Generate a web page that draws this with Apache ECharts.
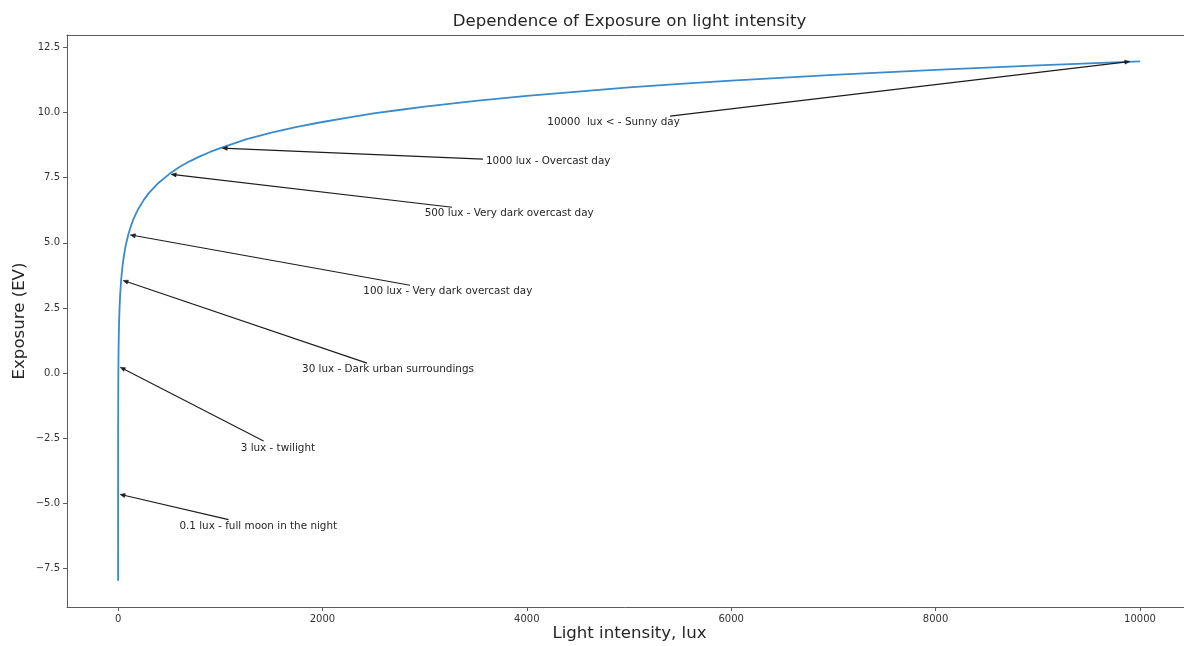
<!DOCTYPE html>
<html>
<head>
<meta charset="utf-8">
<script src="https://cdn.jsdelivr.net/npm/echarts@6/dist/echarts.min.js"></script>
<style>
html,body{margin:0;padding:0;background:#fff;}
#chart{width:1184px;height:646px;}
</style>
</head>
<body>
<div id="chart"></div>
<script>
// Curve readings (light intensity in lux, exposure in EV)
const luxValues = [0.01, 0.02, 0.05, 0.1, 0.2, 0.5, 1, 2, 3, 5, 7, 10, 15, 20, 30, 40, 50, 60, 75, 100, 125, 150, 200, 250, 300, 400, 500, 600, 700, 800, 900, 1000, 1250, 1500, 1750, 2000, 2250, 2500, 2750, 3000, 3500, 4000, 4500, 5000, 5500, 6000, 7000, 8000, 9000, 10000];
const evValues = [-7.97, -6.97, -5.64, -4.64, -3.64, -2.32, -1.32, -0.32, 0.26, 1.0, 1.49, 2.0, 2.58, 3.0, 3.58, 4.0, 4.32, 4.58, 4.91, 5.32, 5.64, 5.91, 6.32, 6.64, 6.91, 7.32, 7.64, 7.91, 8.13, 8.32, 8.49, 8.64, 8.97, 9.23, 9.45, 9.64, 9.81, 9.97, 10.10, 10.23, 10.45, 10.64, 10.81, 10.97, 11.10, 11.23, 11.45, 11.64, 11.81, 11.97];

// Annotations
const annoLabels = ['0.1 lux - full moon in the night', '3 lux - twilight', '30 lux - Dark urban surroundings', '100 lux - Very dark overcast day', '500 lux - Very dark overcast day', '1000 lux - Overcast day', '10000  lux < - Sunny day'];
const annoPointLux = [0.1, 3, 30, 100, 500, 1000, 9920];
const annoPointEV = [-4.64, 0.26, 3.58, 5.32, 7.64, 8.64, 11.97];
const annoTextLux = [600, 1200, 1800, 2400, 3000, 3600, 4200];
const annoTextEV = [-6, -3, 0, 3, 6, 8, 9.5];

// Tick labels
const xTicks = [0, 2000, 4000, 6000, 8000, 10000];
const yTicks = [-7.5, -5.0, -2.5, 0.0, 2.5, 5.0, 7.5, 10.0, 12.5];

const FONT = '"DejaVu Sans", sans-serif';
const ANNO_FS = 10.4;
const measureCtx = document.createElement('canvas').getContext('2d');
measureCtx.font = ANNO_FS + 'px ' + FONT;

const curveData = luxValues.map((x, i) => [x, evValues[i]]);
const annoData = annoLabels.map((t, i) => [annoTextLux[i], annoTextEV[i], annoPointLux[i], annoPointEV[i], i]);

function renderAnno(params, api) {
  const idx = api.value(4);
  const label = annoLabels[idx];
  const tp = api.coord([api.value(0), api.value(1)]);
  const hp = api.coord([api.value(2), api.value(3)]);
  const w = measureCtx.measureText(label).width;
  const baseline = tp[1];
  const left = tp[0];
  const top = baseline - 0.8 * ANNO_FS;
  const bottom = baseline + 0.25 * ANNO_FS;
  const cx = left + w / 2;
  const cy = (top + bottom) / 2;
  let dx = hp[0] - cx, dy = hp[1] - cy;
  const len = Math.sqrt(dx * dx + dy * dy);
  const ux = dx / len, uy = dy / len;
  const hw = w / 2 + 1, hh = (bottom - top) / 2 + 1;
  let t = Infinity;
  if (Math.abs(ux) > 1e-9) t = Math.min(t, hw / Math.abs(ux));
  if (Math.abs(uy) > 1e-9) t = Math.min(t, hh / Math.abs(uy));
  const sx = cx + ux * (t + 2), sy = cy + uy * (t + 2);
  const ex = hp[0] - ux * 2, ey = hp[1] - uy * 2;
  const headLen = 5, headW = 2;
  const bx = ex - ux * headLen, by = ey - uy * headLen;
  const px = -uy, py = ux;
  return {
    type: 'group',
    children: [
      { type: 'line', shape: { x1: sx, y1: sy, x2: bx, y2: by }, style: { stroke: '#1c1c1c', lineWidth: 1.1 } },
      { type: 'polygon', shape: { points: [[ex, ey], [bx + px * headW, by + py * headW], [bx - px * headW, by - py * headW]] }, style: { fill: '#1c1c1c', stroke: '#1c1c1c', lineWidth: 0.6 } },
      { type: 'text', style: { text: label, x: left, y: baseline - 0.33 * ANNO_FS, textAlign: 'left', textVerticalAlign: 'middle', fontSize: ANNO_FS, fontFamily: FONT, fill: '#262626' } }
    ]
  };
}

const chart = echarts.init(document.getElementById('chart'), null, { renderer: 'canvas' });
const gridLeft = 67, gridTop = 35, gridRight = 0, gridBottom = 39;
const plotCenterX = 629.5;
const plotCenterY = gridTop + (646 - gridTop - gridBottom) / 2;
const frameColor = '#5a5a5a';

chart.setOption({
  animation: false,
  backgroundColor: '#fff',
  grid: { left: gridLeft, top: gridTop, right: gridRight, bottom: gridBottom, show: false },
  xAxis: [{
    type: 'value', min: -500, max: 10431, position: 'bottom',
    axisLine: { show: true, onZero: false, lineStyle: { color: frameColor, width: 1 } },
    splitLine: { show: false },
    axisTick: { show: true, length: 4, lineStyle: { color: frameColor }, customValues: xTicks },
    axisLabel: { customValues: xTicks, margin: 7, fontSize: 10, fontFamily: FONT, color: '#333', formatter: v => String(v) }
  }, {
    type: 'value', min: -500, max: 10431, position: 'top',
    axisLine: { show: true, onZero: false, lineStyle: { color: frameColor, width: 1 } },
    splitLine: { show: false }, axisTick: { show: false }, axisLabel: { show: false }
  }],
  yAxis: {
    type: 'value', min: -8.98, max: 12.98, position: 'left',
    axisLine: { show: true, onZero: false, lineStyle: { color: frameColor, width: 1 } },
    splitLine: { show: false },
    axisTick: { show: true, length: 4, lineStyle: { color: frameColor }, customValues: yTicks },
    axisLabel: { customValues: yTicks, margin: 7, fontSize: 10, fontFamily: FONT, color: '#333', formatter: v => (v < 0 ? '\u2212' : '') + Math.abs(v).toFixed(1) }
  },
  graphic: [
    { type: 'text', x: plotCenterX, y: 22, style: { text: 'Dependence of Exposure on light intensity', textAlign: 'center', textVerticalAlign: 'middle', fontSize: 16.6, fontFamily: FONT, fill: '#262626' } },
    { type: 'text', x: plotCenterX, y: 634, style: { text: 'Light intensity, lux', textAlign: 'center', textVerticalAlign: 'middle', fontSize: 16.6, fontFamily: FONT, fill: '#262626' } },
    { type: 'text', x: 20, y: plotCenterY, rotation: Math.PI / 2, style: { text: 'Exposure (EV)', textAlign: 'center', textVerticalAlign: 'middle', fontSize: 16.6, fontFamily: FONT, fill: '#262626' } }
  ],
  series: [
    { type: 'line', data: curveData, showSymbol: false, symbol: 'none', lineStyle: { color: '#3a8bcb', width: 1.8 }, smooth: false, silent: true, z: 2 },
    { type: 'custom', data: annoData, renderItem: renderAnno, silent: true, z: 3, clip: false, encode: { x: 0, y: 1 } }
  ]
});
</script>
</body>
</html>
